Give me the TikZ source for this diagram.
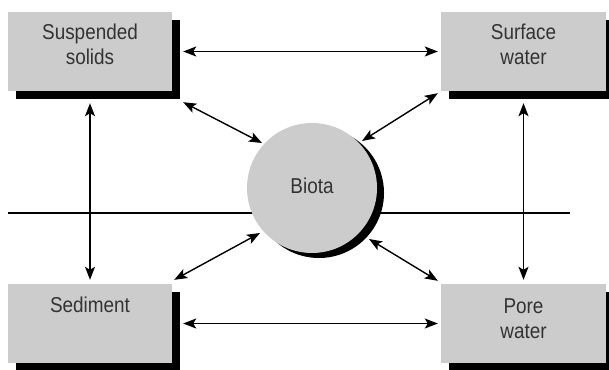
\documentclass[tikz,border=0pt]{standalone}
\usepackage{fontspec}
\setmainfont[FakeStretch=0.88]{Liberation Sans}
\usetikzlibrary{arrows.meta,calc,shadows}
\definecolor{boxgray}{HTML}{CCCCCC}
\definecolor{txtgray}{HTML}{333333}
\tikzset{
  box/.style={draw=none, fill=boxgray, minimum width=164pt, minimum height=79pt, inner sep=0pt,
    drop shadow={shadow xshift=8pt, shadow yshift=-8pt, fill=black, opacity=1}},
  ball/.style={circle, draw=none, fill=boxgray, minimum size=130pt, inner sep=0pt,
    drop shadow={shadow xshift=7pt, shadow yshift=-5pt, fill=black, opacity=1}},
  lbl/.style={text=txtgray, font=\fontsize{21.5}{25}\selectfont, align=center, inner sep=0pt, anchor=base},
  arr/.style={line width=1.4pt, {Stealth[length=13pt,width=10pt,inset=3pt]}-{Stealth[length=13pt,width=10pt,inset=3pt]}},
  plain/.style={line width=1.3pt}
}
\begin{document}
\begin{tikzpicture}[x=1pt,y=-1pt]
\useasboundingbox[fill=white] (0,0) rectangle (609,369);
% horizon line
\coordinate (hl) at (8,213);
\coordinate (hr) at (570,213);
\draw[plain] (hl) -- (hr);
% boxes
\node[box] (ss)  at (90,51.5) {};
\node[box, minimum width=165pt] (sw)  at (523.5,51.5) {};
\node[box] (sed) at (90,323.5) {};
\node[box, minimum width=165pt] (pw)  at (523.5,323.5) {};
\node[ball] (biota) at (312,188) {};
% labels (base anchor = last line's baseline)
\node[lbl] (ss-t)  at ($(ss.north)+(0,53)$)  {Suspended\\solids};
\node[lbl] (sw-t)  at ($(sw.north)+(0,53)$)  {Surface\\water};
\node[lbl] (sed-t) at ($(sed.north)+(0,29)$) {Sediment};
\node[lbl] (pw-t)  at ($(pw.north)+(0,55)$)  {Pore\\water};
\node[lbl] (biota-t) at ($(biota.center)+(0,5)$) {Biota};
% connectors
\draw[arr, shorten <=11pt, shorten >=3pt] (ss.east) -- (sw.west);
\draw[arr, shorten <=11pt, shorten >=3pt] (sed.east) -- (pw.west);
\draw[arr, shorten <=12pt, shorten >=4pt] (ss.south) -- (sed.north);
\draw[arr, shorten <=12pt, shorten >=4pt] (sw.south) -- (pw.north);
\draw[arr] ($(ss.south east)+(11,11)$) -- ($(biota.center)+(-50,-45)$);
\draw[arr] ($(sw.south west)+(-3,2)$) -- ($(biota.center)+(50,-47)$);
\draw[arr] ($(sed.north east)+(2,-4)$) -- ($(biota.center)+(-52,45)$);
\draw[arr] ($(pw.north west)+(-3,-3)$) -- ($(biota.center)+(57,51)$);
\end{tikzpicture}
\end{document}
